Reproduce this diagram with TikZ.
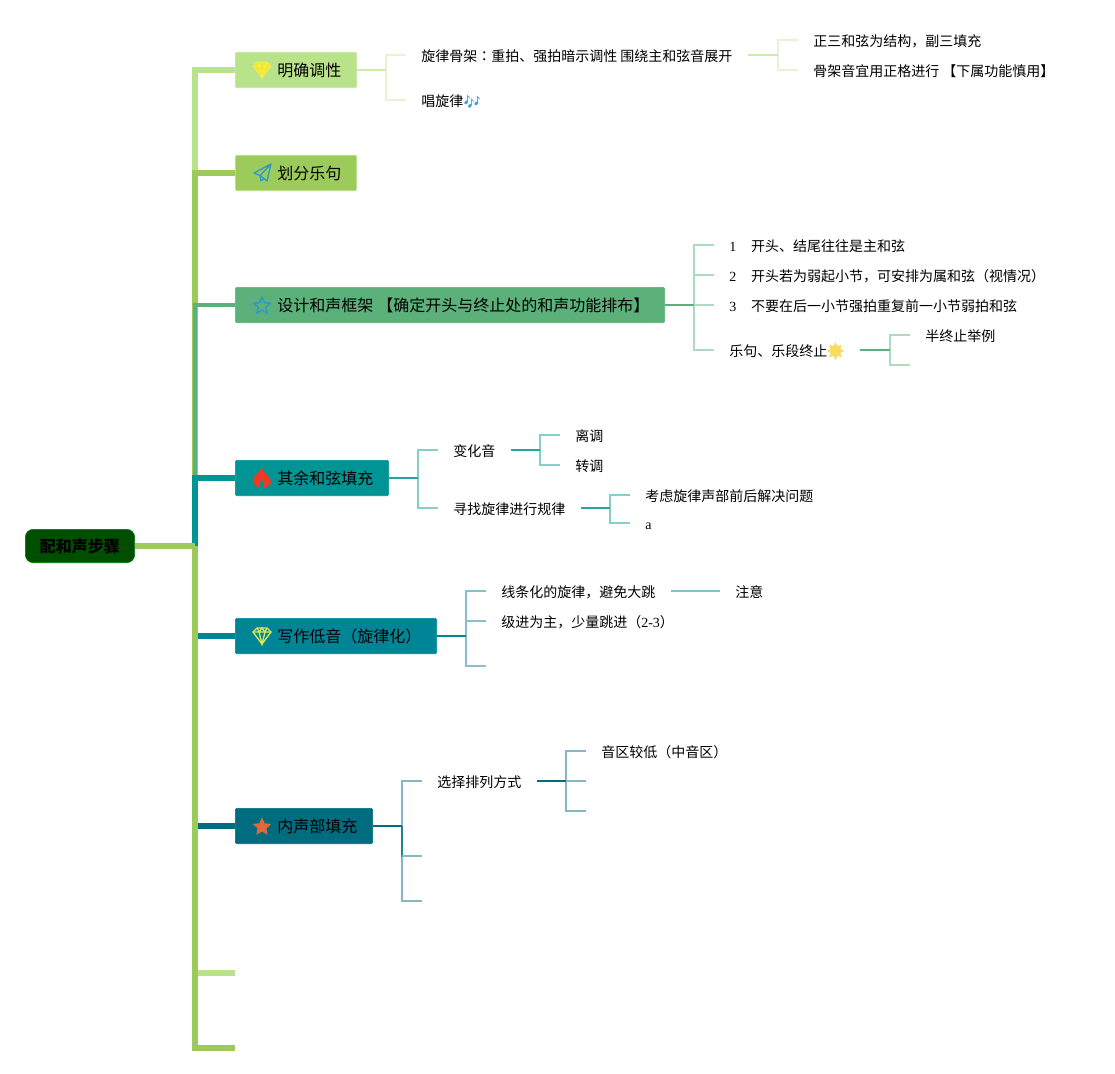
\documentclass[tikz,border=0pt]{standalone}
\usepackage{fontspec}
\setmainfont{Liberation Serif}
\newfontfamily\cjk{Noto Sans CJK SC}
\newfontfamily\cjkt{Noto Sans CJK TC}
\newfontfamily\emojifont{Noto Emoji}
\newcommand{\C}[1]{{\cjk #1}}
\usetikzlibrary{shapes.geometric}
\definecolor{bA}{HTML}{B9E38A}
\definecolor{bB}{HTML}{9DCB5B}
\definecolor{bC}{HTML}{5CB17A}
\definecolor{bD}{HTML}{009494}
\definecolor{bE}{HTML}{008596}
\definecolor{bF}{HTML}{006C7F}
\definecolor{rootc}{HTML}{004F00}
\definecolor{cA}{HTML}{E6F4D4}
\definecolor{pA}{HTML}{CFEBAC}
\definecolor{cC}{HTML}{AEDABE}
\definecolor{cD}{HTML}{85CECB}
\definecolor{cE}{HTML}{85C1CB}
\definecolor{cF}{HTML}{85B8C3}
\definecolor{gemA}{HTML}{F2E92E}
\definecolor{gemB}{HTML}{DDE84E}
\definecolor{iconblue}{HTML}{2E9CC0}
\definecolor{starF}{HTML}{E2673A}
\definecolor{flamec}{HTML}{EE3A24}
\definecolor{notec}{HTML}{3AA5DC}
\definecolor{glow}{HTML}{F8DC60}
\tikzset{
  x=0.75pt, y=-0.75pt,
  trunk/.style={line width=3.8pt},
  thin trunk/.style={line width=2.4pt},
  branchbox/.style={anchor=west, rounded corners=1.5pt, inner xsep=11.6pt, inner ysep=0pt,
     minimum height=26.6pt, font=\fontsize{12}{14}\selectfont, text=black, line width=0.4pt},
  rootbox/.style={rounded corners=6pt, fill=rootc, draw=rootc!75!green, line width=0.5pt,
     minimum width=82pt, minimum height=25pt, inner sep=0pt,
     font=\fontsize{12}{14}\selectfont\bfseries, text=black},
  leaf/.style={anchor=west, inner xsep=11.25pt, inner ysep=0pt, text height=11.7pt, text depth=2.25pt,
     font=\fontsize{10.5}{12}\selectfont, text=black},
  link/.style={line width=1.5pt},
  gem/.pic={
    \path[pic actions] (-9,-4)--(-5,-8)--(5,-8)--(9,-4)--(0,8)--cycle;
    \path[pic actions,fill=none] (-9,-4)--(9,-4) (-3,-4)--(0,8)--(3,-4) (-5,-8)--(-3,-4)--(0,-8)--(3,-4)--(5,-8);
  },
  plane/.pic={
    \draw[pic actions] (9,-8)--(-8,1)--(-2,3.5)--(5,9)--cycle (9,-8)--(-2,3.5)--(-1,9)--(2,6.5);
  },
  flame/.pic={
    \fill[pic actions] (0,10) .. controls (-6,10) and (-9,6) .. (-9,2) .. controls (-9,-2) and (-5,-3) .. (-4,-5)
       .. controls (-3,-7) and (-2,-8) .. (0,-10) .. controls (1,-7) and (3,-5) .. (5,-3)
       .. controls (7,-1) and (9,1) .. (9,4) .. controls (9,7) and (6,10) .. (0,10) -- cycle;
    \fill[bD] (0,10) .. controls (-2,9) and (-3,7) .. (-2,5) .. controls (-1,4) and (0,3) .. (0,2)
       .. controls (1,4) and (3,6) .. (2,8) .. controls (2,9) and (1,10) .. (0,10) -- cycle;
  },
  starmark/.style={star, star points=5, star point ratio=2.1, minimum size=14.5pt, inner sep=0pt}
}
\newcommand{\lab}[1]{\hspace*{19.9pt}\C{#1}}
\begin{document}
\begin{tikzpicture}
\fill[white] (0,0) rectangle (1115,1074);
\useasboundingbox (0,0) rectangle (1115,1074);

% main nodes
\node[rootbox] (root) at (80,546) {\C{配和声步骤}};
\node[branchbox, fill=bA, draw=bA!85!white] (bA) at (235,70) {\lab{明确调性}};
\node[branchbox, fill=bB, draw=bA] (bB) at (235,173) {\lab{划分乐句}};
\node[branchbox, fill=bC, draw=bC] (bC) at (235,305) {\lab{设计和声框架\hspace{3pt}【确定开头与终止处的和声功能排布】}};
\node[branchbox, fill=bD, draw=bD] (bD) at (235,478) {\lab{其余和弦填充}};
\node[branchbox, fill=bE, draw=bE] (bE) at (235,636) {\lab{写作低音（旋律化）}};
\node[branchbox, fill=bF, draw=bF] (bF) at (235,826) {\lab{内声部填充}};
\coordinate (bG) at (235,973);
\coordinate (bH) at (235,1048);
\coordinate (J) at (195,546);

% trunk and branches
\draw[trunk,bA] (J) |- (bA.west);
\draw[trunk,bB] (J) |- (bB.west);
\draw[thin trunk,bC] (J) |- (bC.west);
\draw[trunk,bD] (J) |- (bD.west);
\draw[trunk,bE] (J) |- (bE.west);
\draw[trunk,bF] (J) |- (bF.west);
\draw[trunk,bA] (J) |- (bG);
\draw[trunk,bB] (J) |- (bH);
\draw[trunk,bB] (root.east) -- (J);

% icons
\path (262,70) pic[fill=gemA, draw=gemA!80!white, line width=0.5pt] {gem};
\path (262,172) pic[draw=iconblue, line width=1pt, line join=round, fill=none] {plane};
\node[starmark, draw=iconblue, line width=1.2pt, minimum size=13pt] (iconC) at (262,306) {};
\path (262,478) pic[fill=flamec] {flame};
\path (262,636) pic[draw=gemB, line width=1pt, fill=none] {gem};
\node[starmark, fill=starF] (iconF) at (262,827) {};

% branch A
\coordinate (jA) at (386,70);
\node[leaf] (a1) at (406,55) {\C{旋律骨架}{\cjkt ：}\C{重拍、强拍暗示调性 围绕主和弦音展开}};
\node[leaf] (a2) at (406,100) {\C{唱旋律}{\emojifont\color{notec}🎶}};
\draw[link,cA] (jA) |- (a1.west);
\draw[link,cA] (jA) |- (a2.west);
\draw[link,pA] (bA.east) -- (jA);
\coordinate (jA1) at (778,55);
\node[leaf] (a11) at (798,40) {\C{正三和弦为结构，副三填充}};
\node[leaf] (a12) at (798,70) {\C{骨架音宜用正格进行 【下属功能慎用】}};
\draw[link,cA] (jA1) |- (a11.west);
\draw[link,cA] (jA1) |- (a12.west);
\draw[link,pA] (a1.east) -- (jA1);

% branch C
\coordinate (jC) at (694,305);
\node[leaf] (c1) at (714,245) {1\hspace{11.2pt}\C{开头、结尾往往是主和弦}};
\node[leaf] (c2) at (714,275) {2\hspace{11.2pt}\C{开头若为弱起小节，可安排为属和弦（视情况）}};
\node[leaf] (c3) at (714,305) {3\hspace{11.2pt}\C{不要在后一小节强拍重复前一小节弱拍和弦}};
\node[leaf, inner xsep=0pt] (c4t) at (729,350) {\C{乐句、乐段终止}};
\node[star, star points=8, star point ratio=1.7, fill=glow, minimum size=13.5pt, inner sep=0pt] (c4s) at (835.5,351) {};
\coordinate (c4w) at (714,350);
\coordinate (c4e) at (860,350);
\draw[link,cC] (jC) |- (c1.west);
\draw[link,cC] (jC) |- (c2.west);
\draw[link,cC] (jC) -- (c3.west);
\draw[link,cC] (jC) |- (c4w);
\draw[link,bC] (bC.east) -- (jC);
\coordinate (jC4) at (890,350);
\node[leaf] (c41) at (910,335) {\C{半终止举例}};
\coordinate (c42) at (910,365);
\draw[link,cC] (jC4) |- (c41.west);
\draw[link,cC] (jC4) |- (c42);
\draw[link,bC] (c4e) -- (jC4);

% branch D
\coordinate (jD) at (418,478);
\node[leaf] (d1) at (438,450) {\C{变化音}};
\node[leaf] (d2) at (438,508) {\C{寻找旋律进行规律}};
\draw[link,cD] (jD) |- (d1.west);
\draw[link,cD] (jD) |- (d2.west);
\draw[link,bD!85!white] (bD.east) -- (jD);
\coordinate (jD1) at (540,450);
\node[leaf] (d11) at (560,435) {\C{离调}};
\node[leaf] (d12) at (560,465) {\C{转调}};
\draw[link,cD] (jD1) |- (d11.west);
\draw[link,cD] (jD1) |- (d12.west);
\draw[link,bD!85!white] (d1.east) -- (jD1);
\coordinate (jD2) at (610,508);
\node[leaf] (d21) at (630,495) {\C{考虑旋律声部前后解决问题}};
\node[leaf] (d22) at (630,523) {a};
\draw[link,cD] (jD2) |- (d21.west);
\draw[link,cD] (jD2) |- (d22.west);
\draw[link,bD!85!white] (d2.east) -- (jD2);

% branch E
\coordinate (jE) at (466,636);
\node[leaf] (e1) at (486,591) {\C{线条化的旋律，避免大跳}};
\node[leaf] (e2) at (486,621) {\C{级进为主，少量跳进（}2-3\C{）}};
\coordinate (e3) at (486,666);
\draw[link,cE] (jE) |- (e1.west);
\draw[link,cE] (jE) |- (e2.west);
\draw[link,cE] (jE) |- (e3);
\draw[link,bE] (bE.east) -- (jE);
\node[leaf] (e11) at (720,591) {\C{注意}};
\draw[link,cE] (e1.east) -- (e11.west);

% branch F
\coordinate (jF) at (402,826);
\node[leaf] (f1) at (422,781) {\C{选择排列方式}};
\coordinate (f2) at (422,856);
\coordinate (f3) at (422,901);
\draw[link,cF] (jF) |- (f1.west);
\draw[link,cF] (jF) |- (f3);
\draw[link,cF] (jF) |- (f2);
\draw[link,bF!85!white] (jF) |- (f2);
\draw[link,cF] (402,856) -- (f2);
\draw[link,bF] (bF.east) -- (jF);
\coordinate (jF1) at (566,781);
\node[leaf] (f11) at (586,751) {\C{音区较低（中音区）}};
\coordinate (f12) at (586,781);
\coordinate (f13) at (586,811);
\draw[link,cF] (jF1) |- (f11.west);
\draw[link,cF] (jF1) -- (f12);
\draw[link,cF] (jF1) |- (f13);
\draw[link,bF] (f1.east) -- (jF1);
\end{tikzpicture}
\end{document}
